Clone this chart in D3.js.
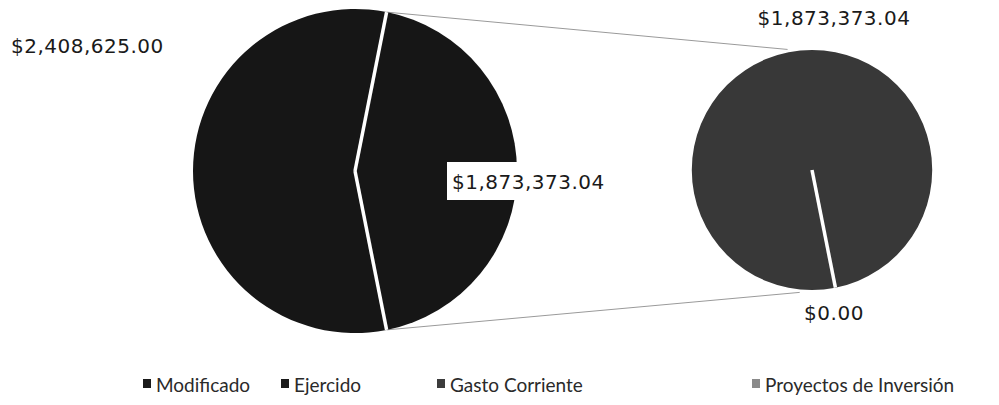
<!DOCTYPE html>
<html>
<head>
<meta charset="utf-8">
<script src="https://cdn.jsdelivr.net/npm/d3@7"></script>
<style>
  html, body { margin: 0; padding: 0; background: #fff; }
  svg { display: block; }
</style>
</head>
<body>
<svg id="chart" width="999" height="405"></svg>
<script>
// ---- data ----
const mainCategories = ["Modificado", "Ejercido"];
const mainValues = [2408625.00, 1873373.04];
const secCategories = ["Gasto Corriente", "Proyectos de Inversión"];
const secValues = [1873373.04, 0.00];
const legendLabels = ["Modificado", "Ejercido", "Gasto Corriente", "Proyectos de Inversión"];

// ---- styles / layout ----
const mainC = { x: 355, y: 171, r: 162 };
const secC = { x: 812, y: 170, r: 120 };
const mainColor = "#161616";
const secColor = "#383838";
const legendColors = ["#1a1a1a", "#1a1a1a", "#3c3c3c", "#8a8a8a"];
const labelFont = "'DejaVu Sans', sans-serif";
const fmt = d3.format("$,.2f");

const svg = d3.select("#chart");

// main pie: second slice (Ejercido) centred on the right side
const total = d3.sum(mainValues);
const f = mainValues[1] / total;
const start = Math.PI / 2 - Math.PI * f - 2 * Math.PI * (1 - f);
const mainPie = d3.pie().sort(null).value(d => d.v)
  .startAngle(start).endAngle(start + 2 * Math.PI);
const mainArcs = mainPie(mainCategories.map((c, i) => ({ c, v: mainValues[i] })));
const ejArc = mainArcs[1];

// secondary pie starts where Ejercido slice ends
const secStart = ejArc.endAngle - 2 * Math.PI;
const secPie = d3.pie().sort(null).value(d => d.v)
  .startAngle(secStart).endAngle(secStart + 2 * Math.PI);
const secArcs = secPie(secCategories.map((c, i) => ({ c, v: secValues[i] })));

const pt = (c, a, r) => [c.x + r * Math.sin(a), c.y - r * Math.cos(a)];

// connector lines
const conn = svg.append("g").attr("stroke", "#9a9a9a").attr("stroke-width", 1).attr("fill", "none");
const topA = pt(mainC, ejArc.startAngle, mainC.r);
const botA = pt(mainC, ejArc.endAngle, mainC.r);
const topB = pt(secC, -0.2, secC.r + 3);
const botB = pt(secC, Math.PI + 0.1, secC.r + 3);
conn.append("line").attr("x1", topA[0]).attr("y1", topA[1]).attr("x2", topB[0]).attr("y2", topB[1]);
conn.append("line").attr("x1", botA[0]).attr("y1", botA[1]).attr("x2", botB[0]).attr("y2", botB[1]);

// main pie
const arcMain = d3.arc().innerRadius(0).outerRadius(mainC.r);
const gMain = svg.append("g").attr("transform", `translate(${mainC.x},${mainC.y})`);
gMain.selectAll("path").data(mainArcs).join("path")
  .attr("d", arcMain).attr("fill", mainColor);
gMain.selectAll("line.sep").data(mainArcs).join("line")
  .attr("class", "sep")
  .attr("x1", 0).attr("y1", 0)
  .attr("x2", d => mainC.r * Math.sin(d.startAngle))
  .attr("y2", d => -mainC.r * Math.cos(d.startAngle))
  .attr("stroke", "#fff").attr("stroke-width", 3.5);

// secondary pie
const arcSec = d3.arc().innerRadius(0).outerRadius(secC.r);
const gSec = svg.append("g").attr("transform", `translate(${secC.x},${secC.y})`);
gSec.selectAll("path").data(secArcs.filter(d => d.value > 0)).join("path")
  .attr("d", arcSec).attr("fill", secColor);
gSec.selectAll("line.sep").data(secArcs.filter(d => d.value === 0)).join("line")
  .attr("class", "sep")
  .attr("x1", 0).attr("y1", 0)
  .attr("x2", d => secC.r * Math.sin(d.startAngle))
  .attr("y2", d => -secC.r * Math.cos(d.startAngle))
  .attr("stroke", "#fff").attr("stroke-width", 3.5);

// data labels
const lab = svg.append("g").attr("font-family", labelFont).attr("font-size", 20)
  .attr("letter-spacing", 0.5).attr("fill", "#1a1a1a");
lab.append("text").attr("x", 11).attr("y", 53).text(fmt(mainValues[0]));
lab.append("rect").attr("x", 447).attr("y", 162).attr("width", 175).attr("height", 38).attr("fill", "#fff");
lab.append("text").attr("x", 452).attr("y", 189).text(fmt(mainValues[1]));
lab.append("text").attr("x", 834).attr("y", 25).attr("text-anchor", "middle").text(fmt(secValues[0]));
lab.append("text").attr("x", 834).attr("y", 320).attr("text-anchor", "middle").text(fmt(secValues[1]));

// legend
const legendX = [143, 281, 437, 752];
const lg = svg.append("g").attr("font-family", "Lato, sans-serif").attr("font-size", 19).attr("fill", "#2a2a2a");
const items = lg.selectAll("g").data(legendLabels).join("g")
  .attr("transform", (d, i) => `translate(${legendX[i]},0)`);
items.append("rect").attr("x", 0).attr("y", 379).attr("width", 8).attr("height", 9)
  .attr("fill", (d, i) => legendColors[i]);
items.append("text").attr("x", 13).attr("y", 392).text(d => d);
</script>
</body>
</html>
